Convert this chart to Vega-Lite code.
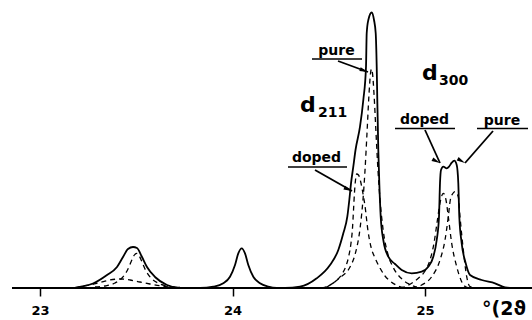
{
  "$schema": "https://vega.github.io/schema/vega-lite/v6.json",
  "width": 532,
  "height": 288,
  "autosize": {"type": "none"},
  "padding": {"left": 0, "top": 0, "right": 0, "bottom": 32},
  "background": "white",
  "config": {
    "view": {"stroke": null},
    "text": {"font": "DejaVu Sans"},
    "axisX": {
      "domain": false, "grid": false, "tickSize": 8, "tickWidth": 1.5, "tickColor": "black",
      "labelFont": "DejaVu Sans", "labelFontWeight": "bold", "labelFontSize": 13,
      "labelColor": "black", "labelPadding": 8
    }
  },
  "datasets": {
    "solid": [
      {"x": 23.1818, "y": 0}, {"x": 23.2078, "y": 1}, {"x": 23.2753, "y": 4.5}, {"x": 23.348, "y": 13},
      {"x": 23.4, "y": 21}, {"x": 23.4312, "y": 31}, {"x": 23.4571, "y": 39}, {"x": 23.4831, "y": 41},
      {"x": 23.5039, "y": 40}, {"x": 23.5299, "y": 31}, {"x": 23.5558, "y": 21}, {"x": 23.5974, "y": 11},
      {"x": 23.6597, "y": 3}, {"x": 23.7273, "y": 0},
      {"x": 23.8312, "y": 0}, {"x": 23.9003, "y": 1.3}, {"x": 23.9522, "y": 4.7}, {"x": 23.987, "y": 11.3},
      {"x": 24.013, "y": 23}, {"x": 24.0301, "y": 34.7}, {"x": 24.0478, "y": 39.7}, {"x": 24.0649, "y": 34.7},
      {"x": 24.0821, "y": 23}, {"x": 24.1081, "y": 11.3}, {"x": 24.1429, "y": 4.7}, {"x": 24.186, "y": 1.3},
      {"x": 24.2296, "y": 0},
      {"x": 24.2727, "y": 0}, {"x": 24.3506, "y": 1.3}, {"x": 24.4374, "y": 9.7}, {"x": 24.5065, "y": 23},
      {"x": 24.5496, "y": 38}, {"x": 24.5756, "y": 54.7}, {"x": 24.5964, "y": 71.3}, {"x": 24.6068, "y": 88},
      {"x": 24.6156, "y": 104.7}, {"x": 24.6275, "y": 121.3}, {"x": 24.639, "y": 138}, {"x": 24.6623, "y": 161.3},
      {"x": 24.6795, "y": 188}, {"x": 24.6935, "y": 221.3}, {"x": 24.6971, "y": 254.7}, {"x": 24.7055, "y": 268},
      {"x": 24.7231, "y": 275.5}, {"x": 24.7351, "y": 268}, {"x": 24.7439, "y": 254.7}, {"x": 24.7491, "y": 221.3},
      {"x": 24.7522, "y": 188}, {"x": 24.7574, "y": 138}, {"x": 24.7626, "y": 104.7}, {"x": 24.7699, "y": 71.3},
      {"x": 24.7834, "y": 48}, {"x": 24.8093, "y": 31.3}, {"x": 24.8442, "y": 24}, {"x": 24.879, "y": 18},
      {"x": 24.9309, "y": 14.7}, {"x": 24.9829, "y": 16.3}, {"x": 25.0171, "y": 21.3}, {"x": 25.0431, "y": 31.3},
      {"x": 25.0608, "y": 48}, {"x": 25.0727, "y": 71.3}, {"x": 25.0779, "y": 105}, {"x": 25.0831, "y": 118},
      {"x": 25.0951, "y": 121.3}, {"x": 25.1127, "y": 119.7}, {"x": 25.1247, "y": 121.3}, {"x": 25.1387, "y": 125.3},
      {"x": 25.1522, "y": 127.3}, {"x": 25.1647, "y": 123}, {"x": 25.173, "y": 104.7}, {"x": 25.1782, "y": 71.3},
      {"x": 25.1906, "y": 44.7}, {"x": 25.2114, "y": 24.7}, {"x": 25.2338, "y": 13}, {"x": 25.2945, "y": 8},
      {"x": 25.3636, "y": 4.7}, {"x": 25.4156, "y": 0.7}, {"x": 25.4519, "y": 0}
    ],
    "comps": [
      {"c": "a2", "x": 23.1818, "y": 0.3}, {"c": "a2", "x": 23.2078, "y": 1.5}, {"c": "a2", "x": 23.2597, "y": 3},
      {"c": "a2", "x": 23.3117, "y": 5.5}, {"c": "a2", "x": 23.3636, "y": 8}, {"c": "a2", "x": 23.4156, "y": 9},
      {"c": "a2", "x": 23.4675, "y": 8}, {"c": "a2", "x": 23.5195, "y": 6}, {"c": "a2", "x": 23.5714, "y": 4},
      {"c": "a2", "x": 23.6234, "y": 2.2}, {"c": "a2", "x": 23.6753, "y": 1}, {"c": "a2", "x": 23.7273, "y": 0.3},
      {"c": "a1", "x": 23.2857, "y": 1}, {"c": "a1", "x": 23.3377, "y": 2}, {"c": "a1", "x": 23.3896, "y": 5},
      {"c": "a1", "x": 23.426, "y": 10}, {"c": "a1", "x": 23.4519, "y": 17}, {"c": "a1", "x": 23.4727, "y": 26},
      {"c": "a1", "x": 23.4883, "y": 32.5}, {"c": "a1", "x": 23.5023, "y": 34.7}, {"c": "a1", "x": 23.5143, "y": 32.5},
      {"c": "a1", "x": 23.5299, "y": 26}, {"c": "a1", "x": 23.5506, "y": 17}, {"c": "a1", "x": 23.5766, "y": 10},
      {"c": "a1", "x": 23.613, "y": 5}, {"c": "a1", "x": 23.6649, "y": 2}, {"c": "a1", "x": 23.7273, "y": 0.5},
      {"c": "b1", "x": 24.4649, "y": 0}, {"c": "b1", "x": 24.5065, "y": 3}, {"c": "b1", "x": 24.5429, "y": 8},
      {"c": "b1", "x": 24.5688, "y": 14}, {"c": "b1", "x": 24.5896, "y": 22}, {"c": "b1", "x": 24.6052, "y": 33},
      {"c": "b1", "x": 24.6156, "y": 45}, {"c": "b1", "x": 24.6234, "y": 60}, {"c": "b1", "x": 24.6286, "y": 78},
      {"c": "b1", "x": 24.6338, "y": 96}, {"c": "b1", "x": 24.639, "y": 108}, {"c": "b1", "x": 24.6452, "y": 114},
      {"c": "b1", "x": 24.6545, "y": 113}, {"c": "b1", "x": 24.6649, "y": 107}, {"c": "b1", "x": 24.6753, "y": 97},
      {"c": "b1", "x": 24.6883, "y": 82}, {"c": "b1", "x": 24.7039, "y": 57}, {"c": "b1", "x": 24.7195, "y": 41},
      {"c": "b1", "x": 24.7403, "y": 30}, {"c": "b1", "x": 24.7662, "y": 20}, {"c": "b1", "x": 24.7922, "y": 12},
      {"c": "b1", "x": 24.8182, "y": 7}, {"c": "b1", "x": 24.8494, "y": 3}, {"c": "b1", "x": 24.8961, "y": 0},
      {"c": "b2", "x": 24.4909, "y": 1}, {"c": "b2", "x": 24.5584, "y": 10.3}, {"c": "b2", "x": 24.6104, "y": 21},
      {"c": "b2", "x": 24.6364, "y": 33.4}, {"c": "b2", "x": 24.6623, "y": 59.2}, {"c": "b2", "x": 24.6779, "y": 88.5},
      {"c": "b2", "x": 24.6883, "y": 117.6}, {"c": "b2", "x": 24.6987, "y": 155}, {"c": "b2", "x": 24.7091, "y": 194},
      {"c": "b2", "x": 24.7169, "y": 214.6}, {"c": "b2", "x": 24.7221, "y": 219}, {"c": "b2", "x": 24.7273, "y": 214.6},
      {"c": "b2", "x": 24.7351, "y": 194}, {"c": "b2", "x": 24.7455, "y": 155}, {"c": "b2", "x": 24.7558, "y": 117.6},
      {"c": "b2", "x": 24.7662, "y": 88.5}, {"c": "b2", "x": 24.7818, "y": 59.2}, {"c": "b2", "x": 24.8078, "y": 33.4},
      {"c": "b2", "x": 24.8338, "y": 21}, {"c": "b2", "x": 24.8857, "y": 8}, {"c": "b2", "x": 24.9273, "y": 3},
      {"c": "b2", "x": 24.9636, "y": 0},
      {"c": "c1", "x": 24.8701, "y": 0}, {"c": "c1", "x": 24.8961, "y": 1.3}, {"c": "c1", "x": 24.9325, "y": 5},
      {"c": "c1", "x": 24.9652, "y": 9.7}, {"c": "c1", "x": 25.0, "y": 17}, {"c": "c1", "x": 25.026, "y": 28},
      {"c": "c1", "x": 25.0468, "y": 45}, {"c": "c1", "x": 25.0623, "y": 65}, {"c": "c1", "x": 25.0779, "y": 85},
      {"c": "c1", "x": 25.0951, "y": 94.7}, {"c": "c1", "x": 25.1091, "y": 88}, {"c": "c1", "x": 25.121, "y": 71.3},
      {"c": "c1", "x": 25.1387, "y": 44.7}, {"c": "c1", "x": 25.1647, "y": 21.3}, {"c": "c1", "x": 25.1906, "y": 6.3},
      {"c": "c1", "x": 25.2182, "y": 0.5}, {"c": "c1", "x": 25.2442, "y": 0},
      {"c": "c2", "x": 24.9325, "y": 0}, {"c": "c2", "x": 24.9829, "y": 3}, {"c": "c2", "x": 25.0348, "y": 11.3},
      {"c": "c2", "x": 25.0779, "y": 28}, {"c": "c2", "x": 25.1039, "y": 48}, {"c": "c2", "x": 25.121, "y": 71.3},
      {"c": "c2", "x": 25.1314, "y": 88}, {"c": "c2", "x": 25.1429, "y": 94}, {"c": "c2", "x": 25.1558, "y": 96.3},
      {"c": "c2", "x": 25.173, "y": 91.3}, {"c": "c2", "x": 25.1818, "y": 71.3}, {"c": "c2", "x": 25.199, "y": 38},
      {"c": "c2", "x": 25.2166, "y": 11.3}, {"c": "c2", "x": 25.2338, "y": 1.3}, {"c": "c2", "x": 25.2597, "y": 0}
    ],
    "baseline": [{"x": 22.8545, "x2": 25.5558, "y": 0}],
    "underlines": [
      {"x": 24.413, "x2": 24.6727, "y": 229},
      {"x": 24.2883, "x2": 24.5948, "y": 121},
      {"x": 24.8442, "x2": 25.1558, "y": 159.5},
      {"x": 25.2701, "x2": 25.5351, "y": 159.5}
    ],
    "arrows": [
      {"n": "a", "x": 24.5481, "y": 227, "x2": 24.7039, "y2": 216},
      {"n": "b", "x": 24.4286, "y": 118, "x2": 24.6208, "y2": 97},
      {"n": "c", "x": 25.0, "y": 158, "x2": 25.0779, "y2": 125},
      {"n": "d", "x": 25.3532, "y": 157, "x2": 25.2078, "y2": 125}
    ],
    "bigd": [{"t": "d", "x": 24.3506, "y": 176}, {"t": "d", "x": 24.9844, "y": 208}],
    "subs": [{"t": "211", "x": 24.4442, "y": 171}, {"t": "300", "x": 25.0727, "y": 203}],
    "tags": [
      {"t": "pure", "x": 24.5403, "y": 233},
      {"t": "doped", "x": 24.4364, "y": 126},
      {"t": "doped", "x": 24.9974, "y": 164},
      {"t": "pure", "x": 25.4, "y": 163}
    ],
    "unit": [{"t": "°(2ϑ", "x": 25.2961, "y": -27}]
  },
  "layer": [
    {
      "data": {"name": "baseline"},
      "mark": {"type": "rule", "color": "black", "strokeWidth": 1.8},
      "encoding": {
        "x": {"field": "x", "type": "quantitative", "title": null,
              "scale": {"domain": [22.7922, 25.5558], "nice": false, "zero": false},
              "axis": {"values": [23, 24, 25], "format": "d", "title": null}},
        "x2": {"field": "x2"},
        "y": {"field": "y", "type": "quantitative", "scale": {"domain": [0, 288], "nice": false, "zero": false}, "axis": null}
      }
    },
    {
      "data": {"name": "comps"},
      "mark": {"type": "line", "color": "black", "strokeWidth": 1.3, "strokeDash": [5, 4], "interpolate": "monotone"},
      "encoding": {
        "x": {"field": "x", "type": "quantitative", "title": null},
        "y": {"field": "y", "type": "quantitative", "axis": null},
        "detail": {"field": "c", "type": "nominal"}
      }
    },
    {
      "data": {"name": "solid"},
      "mark": {"type": "line", "color": "black", "strokeWidth": 1.8, "interpolate": "monotone"},
      "encoding": {
        "x": {"field": "x", "type": "quantitative", "title": null},
        "y": {"field": "y", "type": "quantitative", "axis": null}
      }
    },
    {
      "data": {"name": "underlines"},
      "mark": {"type": "rule", "color": "black", "strokeWidth": 1.5},
      "encoding": {
        "x": {"field": "x", "type": "quantitative", "title": null},
        "x2": {"field": "x2"},
        "y": {"field": "y", "type": "quantitative", "axis": null}
      }
    },
    {
      "data": {"name": "arrows"},
      "mark": {"type": "rule", "color": "black", "strokeWidth": 1.8},
      "encoding": {
        "x": {"field": "x", "type": "quantitative", "title": null},
        "x2": {"field": "x2"},
        "y": {"field": "y", "type": "quantitative", "axis": null},
        "y2": {"field": "y2"}
      }
    },
    {
      "data": {"name": "arrows"},
      "mark": {"type": "point", "filled": true, "color": "black", "opacity": 1, "size": 100,
               "shape": "M0,0L0.4,1.7L-0.4,1.7Z"},
      "encoding": {
        "x": {"field": "x2", "type": "quantitative", "title": null},
        "y": {"field": "y2", "type": "quantitative", "axis": null},
        "angle": {"field": "n", "type": "nominal", "legend": null,
                  "scale": {"domain": ["a", "b", "c", "d"], "range": [110, 120, 156, 221]}}
      }
    },
    {
      "data": {"name": "bigd"},
      "mark": {"type": "text", "font": "DejaVu Sans", "fontWeight": "bold", "fontSize": 22, "align": "left", "baseline": "alphabetic", "color": "black"},
      "encoding": {
        "x": {"field": "x", "type": "quantitative", "title": null},
        "y": {"field": "y", "type": "quantitative", "axis": null},
        "text": {"field": "t"}
      }
    },
    {
      "data": {"name": "subs"},
      "mark": {"type": "text", "font": "DejaVu Sans", "fontWeight": "bold", "fontSize": 14, "align": "left", "baseline": "alphabetic", "color": "black"},
      "encoding": {
        "x": {"field": "x", "type": "quantitative", "title": null},
        "y": {"field": "y", "type": "quantitative", "axis": null},
        "text": {"field": "t"}
      }
    },
    {
      "data": {"name": "tags"},
      "mark": {"type": "text", "font": "DejaVu Sans", "fontWeight": "bold", "fontSize": 14, "align": "center", "baseline": "alphabetic", "color": "black"},
      "encoding": {
        "x": {"field": "x", "type": "quantitative", "title": null},
        "y": {"field": "y", "type": "quantitative", "axis": null},
        "text": {"field": "t"}
      }
    },
    {
      "data": {"name": "unit"},
      "mark": {"type": "text", "font": "DejaVu Sans", "fontWeight": "bold", "fontSize": 19, "align": "left", "baseline": "alphabetic", "color": "black"},
      "encoding": {
        "x": {"field": "x", "type": "quantitative", "title": null},
        "y": {"field": "y", "type": "quantitative", "axis": null},
        "text": {"field": "t"}
      }
    }
  ]
}
